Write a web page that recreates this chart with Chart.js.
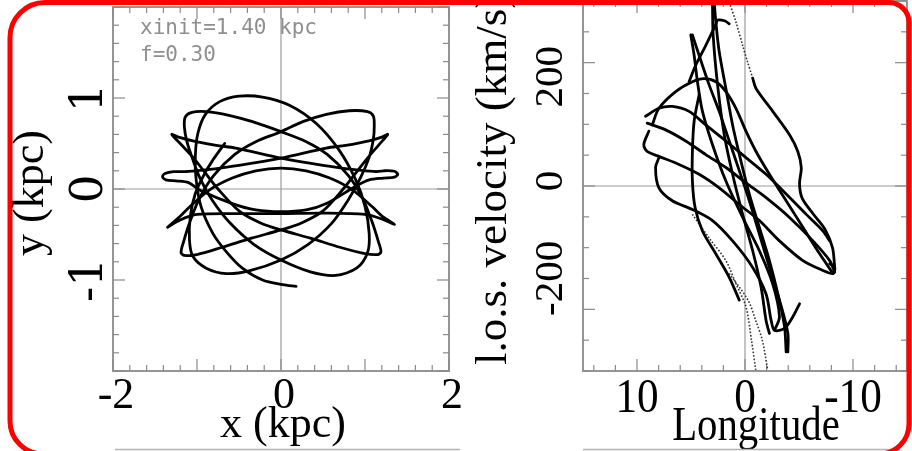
<!DOCTYPE html>
<html>
<head>
<meta charset="utf-8">
<script src="https://cdn.jsdelivr.net/npm/chart.js@4.4.1/dist/chart.umd.min.js"></script>
<style>
  html, body { margin: 0; padding: 0; background: #fff; }
  #wrap { position: relative; width: 912px; height: 451px; overflow: hidden; background: #fff; }
  #wrap canvas { position: absolute; left: 0; top: 0; }
</style>
</head>
<body>
<div id="wrap">
  <canvas id="xyChart" width="912" height="451"></canvas>
  <canvas id="lvChart" width="912" height="451"></canvas>
</div>
<script>
// ---- Orbit in the bar frame: x, y in kpc (stroke = [x, y] pairs) ----
const xyStrokeA = [[1.13,0.19],[0.9,0.21],[0.5,0.26],[0,0.34],[-0.54,0.45],[-0.77,0.48],[-1.05,0.53],[-1.22,0.57],[-1.30,0.60],[-1.18,0.48],[-1.05,0.35],[-0.92,0.20],[-0.75,0.0],[-0.5,-0.24],[-0.25,-0.37],[0,-0.45],[0.35,-0.54],[0.7,-0.64],[1.0,-0.71],[1.15,-0.72],[1.19,-0.69],[1.16,-0.58],[1.08,-0.35],[0.97,-0.1],[0.8,0.15],[0.55,0.38],[0.3,0.52],[0,0.63],[-0.34,0.74],[-0.62,0.81],[-0.89,0.85],[-1.07,0.84],[-1.14,0.79],[-1.15,0.68],[-1.12,0.52],[-1.06,0.35],[-0.97,0.13],[-0.82,-0.12],[-0.6,-0.38],[-0.32,-0.61],[0,-0.78],[0.35,-0.91],[0.65,-0.95],[0.90,-0.87],[1.03,-0.70],[1.05,-0.49],[1.00,-0.19],[0.89,0.10],[0.69,0.43],[0.42,0.72],[0.10,0.92],[-0.22,1.01],[-0.50,1.02],[-0.73,0.96],[-0.90,0.82],[-0.99,0.61],[-1.02,0.36],[-1.01,0.10],[-0.95,-0.20],[-0.81,-0.49],[-0.65,-0.69],[-0.46,-0.87],[-0.22,-1.00],[0.02,-1.05],[0.18,-1.07]];
const xyStrokeB = [[-1.13,0.19],[-0.9,0.21],[-0.5,0.26],[0,0.34],[0.54,0.45],[0.77,0.48],[1.05,0.53],[1.20,0.57],[1.27,0.60],[1.16,0.48],[1.04,0.35],[0.91,0.20],[0.74,0.0],[0.5,-0.24],[0.25,-0.37],[0,-0.45],[-0.35,-0.54],[-0.7,-0.64],[-1.0,-0.72],[-1.15,-0.73],[-1.19,-0.70],[-1.16,-0.58],[-1.08,-0.35],[-0.97,-0.1],[-0.8,0.15],[-0.55,0.38],[-0.3,0.52],[0,0.63],[0.26,0.74],[0.54,0.82],[0.81,0.86],[1.03,0.85],[1.10,0.80],[1.11,0.68],[1.10,0.55],[1.05,0.35],[0.95,0.13],[0.8,-0.12],[0.6,-0.38],[0.32,-0.61],[0,-0.78],[-0.38,-0.90],[-0.65,-0.93],[-0.89,-0.87],[-1.05,-0.74],[-1.09,-0.56],[-1.08,-0.30],[-1.02,-0.05],[-0.92,0.15],[-0.81,0.32],[-0.67,0.50]];
const xyStrokeC = [[-1.13,0.19],[-1.28,0.19],[-1.38,0.17],[-1.41,0.135],[-1.37,0.10],[-1.25,0.09],[-1.10,0.07],[-0.97,-0.01],[-0.58,-0.16],[-0.3,-0.23],[0,-0.25],[0.3,-0.23],[0.54,-0.16],[0.89,0.03],[1.05,0.10],[1.22,0.12],[1.35,0.13],[1.39,0.16],[1.35,0.195],[1.22,0.20],[1.13,0.19]];
const xyStrokeD = [[-1.35,-0.42],[-1.2,-0.30],[-1.08,-0.19],[-0.85,-0.01],[-0.58,0.12],[-0.3,0.2],[0,0.23],[0.3,0.2],[0.58,0.12],[0.85,-0.01],[1.08,-0.19],[1.22,-0.31],[1.35,-0.39],[1.2,-0.33],[1.0,-0.28],[0.5,-0.265],[0,-0.27],[-0.5,-0.27],[-1.0,-0.28],[-1.2,-0.34],[-1.35,-0.42]];

// ---- Longitude (deg) / line-of-sight velocity (km/s) tracks ----
const lvStroke1 = [[9.21,113],[7.97,126],[6.73,129],[5.18,121],[3.63,99],[1.77,73],[-0.09,46],[-1.95,19],[-3.81,-13],[-5.67,-46],[-7.22,-73],[-7.84,-89]];
const lvStroke2 = [[9.06,102],[7.35,91],[5.49,73],[3.63,51],[1.77,30],[-0.09,5],[-1.95,-19],[-4.12,-51],[-6.29,-89],[-7.84,-121],[-8.31,-140]];
const lvStroke3 = [[8.90,89],[9.37,67],[9.06,56],[7.97,48],[6.11,35],[4.25,19],[2.39,-3],[0.53,-30],[-1.33,-56],[-3.19,-89],[-5.36,-121],[-7.22,-137],[-8.15,-142],[-8.31,-132],[-7.84,-126]];
const lvStroke4 = [[7.97,46],[8.28,30],[7.97,-3],[6.73,-24],[4.87,-38],[3.01,-56],[1.15,-89],[-0.71,-132],[-1.95,-175],[-2.42,-218],[-2.73,-234],[-3.66,-231],[-4.43,-212],[-5.05,-191]];
const lvStroke5 = [[8.59,99],[7.97,126],[6.42,153],[4.87,169],[3.79,174],[2.70,169],[1.77,153],[0.84,126],[-0.09,89],[-1.02,56],[-2.26,19],[-3.81,-24],[-5.36,-67],[-6.91,-110],[-8.15,-142]];
const lvStroke6 = [[-0.71,175],[-1.02,158],[-2.57,121],[-4.12,83],[-4.89,56],[-5.21,30],[-5.05,3],[-5.3,-20],[-6.3,-45],[-7.4,-70],[-8.1,-100],[-8.3,-130]];
const lvStroke7 = [[4.87,245],[4.25,212],[3.32,164],[2.39,121],[1.46,73],[0.53,25],[-0.40,-24],[-1.33,-78],[-2.26,-132],[-3.19,-185],[-3.97,-239],[-3.97,-269]];
const lvStroke8 = [[5.02,245],[4.71,212],[4.40,169],[3.94,121],[3.01,67],[1.77,8],[0.22,-51],[-1.33,-105],[-2.57,-159],[-3.19,-212],[-2.73,-234]];
const lvStroke9 = [[2.85,298],[2.70,266],[2.39,218],[1.77,158],[1.15,99],[0.37,40],[-0.40,-13],[-1.33,-67],[-2.26,-121],[-3.04,-175],[-3.66,-228],[-3.81,-269]];
const lvStroke10 = [[3.01,298],[2.95,245],[2.54,164],[1.92,83],[1.15,19],[0.22,-46],[-0.71,-105],[-1.49,-164],[-1.95,-218],[-2.26,-239]];
const lvStroke11 = [[5.18,169],[4.56,196],[3.63,228],[2.70,262],[2.55,269],[1.9,268],[1.46,263]];
const lvStroke12 = [[4.25,148],[4.71,105],[4.87,56],[4.87,8],[4.62,-35],[3.94,-73],[2.70,-110],[1.46,-148],[0.53,-185]];
const lvDotted1 = [[1.46,298],[0.84,266],[0.22,228],[-0.24,201],[-0.71,175]];
const lvDotted2 = [[4.87,-46],[3.3,-85],[1.77,-121],[0.8,-160],[-0.09,-196],[-0.6,-250],[-0.99,-298]];
const lvDotted3 = [[1.46,-142],[-0.28,-185],[-0.99,-218],[-1.6,-250],[-2.1,-298]];

// ---- Axis labels ----
const xyTickLabelsX = [-2, 0, 2];
const xyTickLabelsY = [-1, 0, 1];
const lvTickLabelsX = [10, 0, -10];
const lvTickLabelsY = [200, 0, -200];

const INK = '#000';
const FRAME = '#8a8a8a';
const ZERO = '#9c9c9c';

function pts(stroke) { return stroke.map(([x, y]) => ({ x, y })); }

function solid(stroke) {
  return { data: pts(stroke), showLine: true, pointRadius: 0, borderColor: INK,
           borderWidth: 2.8, tension: 0.3, fill: false, borderCapStyle: 'round', borderJoinStyle: 'round' };
}
function dotted(stroke) {
  return { data: pts(stroke), showLine: true, pointRadius: 0, borderColor: '#333',
           borderWidth: 1.6, borderDash: [1.6, 1.8], tension: 0.3, fill: false };
}

function seg(ctx, x1, y1, x2, y2) { ctx.beginPath(); ctx.moveTo(x1, y1); ctx.lineTo(x2, y2); ctx.stroke(); }

function label(ctx, str, x, y, o) {
  ctx.save();
  ctx.translate(x, y);
  if (o.rot) ctx.rotate(o.rot);
  if (o.sx) ctx.scale(o.sx, 1);
  ctx.font = o.font;
  ctx.fillStyle = o.color || INK;
  ctx.textAlign = o.align || 'center';
  ctx.textBaseline = o.baseline || 'alphabetic';
  ctx.fillText(str, 0, 0);
  ctx.restore();
}

// frame, zero lines and inward ticks on all four sides
function panelFrame(style) {
  return {
    id: 'panelFrame',
    beforeDatasetsDraw(chart) {
      const { ctx, chartArea: a, scales: { x, y } } = chart;
      ctx.save();
      ctx.lineCap = 'butt';
      ctx.strokeStyle = ZERO; ctx.lineWidth = 1.2;
      const x0 = x.getPixelForValue(0), y0 = y.getPixelForValue(0);
      seg(ctx, x0, a.top, x0, a.bottom);
      seg(ctx, a.left, y0, a.right, y0);
      ctx.strokeStyle = FRAME; ctx.lineWidth = 1.2;
      const lo = Math.min(x.min, x.max), hi = Math.max(x.min, x.max);
      for (let n = Math.ceil(lo / style.xMinor - 1e-9); n * style.xMinor <= hi + 1e-9; n++) {
        const v = n * style.xMinor, p = x.getPixelForValue(v);
        const len = Math.abs(v / style.xMajor - Math.round(v / style.xMajor)) < 1e-6 ? style.major : style.minor;
        seg(ctx, p, a.bottom, p, a.bottom - len);
        seg(ctx, p, a.top, p, a.top + len);
      }
      for (let n = Math.ceil(y.min / style.yMinor - 1e-9); n * style.yMinor <= y.max + 1e-9; n++) {
        const v = n * style.yMinor, p = y.getPixelForValue(v);
        const len = Math.abs(v / style.yMajor - Math.round(v / style.yMajor)) < 1e-6 ? style.major : style.minor;
        seg(ctx, a.left, p, a.left + len, p);
        seg(ctx, a.right, p, a.right - len, p);
      }
      ctx.lineWidth = 1.8;
      ctx.strokeRect(a.left, a.top, a.right - a.left, a.bottom - a.top);
      ctx.restore();
    }
  };
}

// ---------------- left panel: x-y ----------------
const xyLabels = {
  id: 'xyLabels',
  afterDraw(chart) {
    const { ctx, chartArea: a, scales: { x, y } } = chart;
    xyTickLabelsX.forEach(v => label(ctx, String(v), x.getPixelForValue(v) + 3, a.bottom + 37,
      { font: '44px "Liberation Serif"' }));
    xyTickLabelsY.forEach(v => label(ctx, String(v), 102, y.getPixelForValue(v),
      { font: '45px "DejaVu Serif"', rot: -Math.PI / 2 }));
    label(ctx, 'x (kpc)', x.getPixelForValue(0) + 2, a.bottom + 66, { font: '44px "Liberation Serif"' });
    label(ctx, 'y (kpc)', 43, y.getPixelForValue(0) + 4, { font: '44px "Liberation Serif"', rot: -Math.PI / 2 });
    label(ctx, 'xinit=1.40 kpc', a.left + 27, a.top + 27, { font: '21px "DejaVu Sans Mono"', align: 'left', color: '#8f8f8f' });
    label(ctx, 'f=0.30', a.left + 27, a.top + 54, { font: '21px "DejaVu Sans Mono"', align: 'left', color: '#8f8f8f' });
  }
};

new Chart(document.getElementById('xyChart'), {
  type: 'scatter',
  data: { datasets: [xyStrokeA, xyStrokeB, xyStrokeC, xyStrokeD].map(solid) },
  options: {
    responsive: false, animation: false, devicePixelRatio: 1,
    layout: { padding: { left: 113, top: 7, right: 463, bottom: 80 } },
    plugins: { legend: { display: false }, tooltip: { enabled: false } },
    scales: {
      x: { type: 'linear', min: -2, max: 2, display: false },
      y: { type: 'linear', min: -2, max: 2, display: false }
    }
  },
  plugins: [panelFrame({ xMinor: 0.2, xMajor: 1, yMinor: 0.2, yMajor: 1, minor: 6, major: 12 }), xyLabels]
});

// ---------------- right panel: longitude-velocity ----------------
const lvYLabelNudge = { '200': 14, '0': -5, '-200': -31 };

const lvLabels = {
  id: 'lvLabels',
  afterDraw(chart) {
    const { ctx, chartArea: a, scales: { x, y } } = chart;
    lvTickLabelsX.forEach(v => label(ctx, String(v), x.getPixelForValue(v), a.bottom + 41,
      { font: '48px "Liberation Serif"', sx: 0.9 }));
    lvTickLabelsY.forEach(v => label(ctx, String(v), 562, y.getPixelForValue(v) + lvYLabelNudge[String(v)],
      { font: '41px "Liberation Serif"', rot: -Math.PI / 2 }));
    label(ctx, 'Longitude', x.getPixelForValue(0) + 11, a.bottom + 69, { font: '48px "Liberation Serif"', sx: 0.85 });
    label(ctx, 'l.o.s. velocity (km/s)', 506, a.bottom - 6, { font: '45px "Liberation Serif"', rot: -Math.PI / 2, align: 'left' });

    // surrounding page decoration
    ctx.save();
    ctx.strokeStyle = '#b4b4b4'; ctx.lineWidth = 1.5;
    seg(ctx, 115, 449.5, 460, 449.5);
    seg(ctx, 583, 449.5, 900, 449.5);
    ctx.strokeStyle = '#ff0000'; ctx.lineWidth = 5;
    ctx.beginPath();
    ctx.roundRect(10, 2.5, 899, 451.5, [35, 20, 30, 33]);
    ctx.stroke();
    ctx.restore();
  }
};

new Chart(document.getElementById('lvChart'), {
  type: 'scatter',
  data: {
    datasets: [lvStroke1, lvStroke2, lvStroke3, lvStroke4, lvStroke5, lvStroke6, lvStroke7,
               lvStroke8, lvStroke9, lvStroke10, lvStroke11, lvStroke12].map(solid)
      .concat([lvDotted1, lvDotted2, lvDotted3].map(dotted))
  },
  options: {
    responsive: false, animation: false, devicePixelRatio: 1,
    layout: { padding: { left: 583, top: 1, right: 5, bottom: 80 } },
    plugins: { legend: { display: false }, tooltip: { enabled: false } },
    scales: {
      x: { type: 'linear', min: -15, max: 15, reverse: true, display: false },
      y: { type: 'linear', min: -300, max: 300, display: false }
    }
  },
  plugins: [panelFrame({ xMinor: 2, xMajor: 10, yMinor: 50, yMajor: 200, minor: 6, major: 12 }), lvLabels]
});
</script>
</body>
</html>
